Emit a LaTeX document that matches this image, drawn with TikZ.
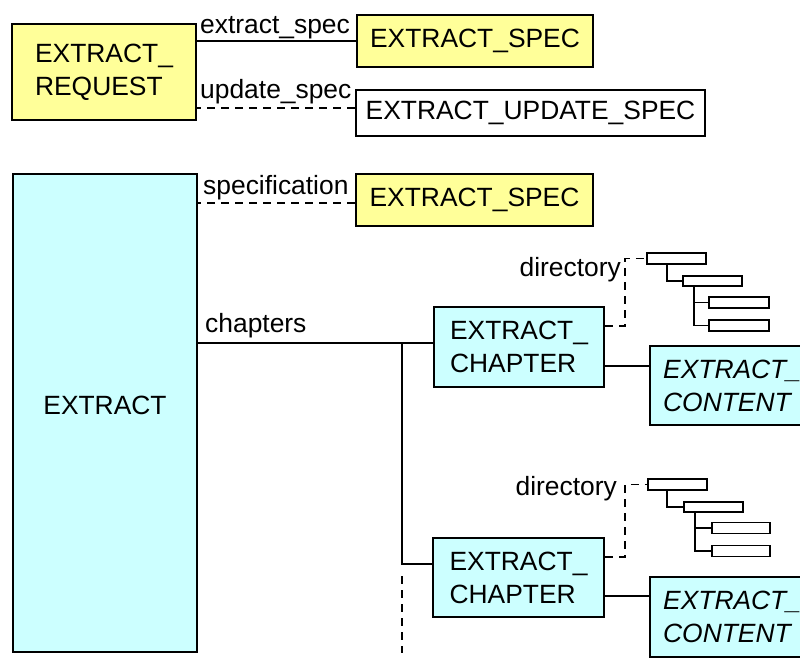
\documentclass[tikz,border=0pt]{standalone}
\usepackage{fontspec}
\setmainfont{Liberation Sans}
\usetikzlibrary{calc}
\definecolor{ylw}{HTML}{FFFF99}
\definecolor{cyn}{HTML}{CCFFFF}
\tikzset{
  box/.style={draw=black, line width=2.3pt, inner sep=0pt, align=center},
  ybox/.style={box, fill=ylw},
  wbox/.style={box, fill=white},
  cbox/.style={box, fill=cyn},
  tbox/.style={draw=black, line width=1.8pt, fill=white, inner sep=0pt, minimum width=59pt, minimum height=11pt},
  conn/.style={line width=2.2pt},
  dconn/.style={line width=2.2pt, dash pattern=on 8pt off 6pt},
  tconn/.style={line width=1.8pt},
  lbl/.style={inner sep=0pt, anchor=base west},
}
\begin{document}
\begin{tikzpicture}[x=1pt, y=-1pt, font=\fontsize{26.4}{33}\selectfont]
\useasboundingbox (0,0) rectangle (800,662);
% top group
\node[ybox, align=left, minimum width=184pt, minimum height=96pt] (req) at (104,72) {EXTRACT\_\\REQUEST};
\node[ybox, minimum width=236pt, minimum height=52pt] (spec1) at (475,41) {EXTRACT\_SPEC};
\node[wbox, minimum width=349pt, minimum height=46pt] (upd) at (530.5,113) {EXTRACT\_UPDATE\_SPEC};
\draw[conn] (req.east |- spec1.west) -- (spec1.west);
\node[lbl] (l1) at (200,33) {extract\_spec};
\draw[dconn] ($(upd.west)+(0,-5)$) coordinate (u1) -- (u1 -| req.east);
\node[lbl] (l2) at (200,98) {update\_spec};
% EXTRACT
\node[cbox, minimum width=184pt, minimum height=478pt, text depth=16pt] (ext) at (105,413) {EXTRACT};
\node[ybox, minimum width=237pt, minimum height=52pt] (spec2) at (474.5,200) {EXTRACT\_SPEC};
\draw[dconn] ($(spec2.west)+(0,3)$) coordinate (s1) -- (s1 -| ext.east);
\node[lbl] (l3) at (203,194) {specification};
% chapters
\node[cbox, align=left, minimum width=170pt, minimum height=80pt] (ch1) at (519,347) {EXTRACT\_\\CHAPTER};
\node[cbox, align=left, minimum width=171pt, minimum height=79pt] (ch2) at (518.5,577.5) {EXTRACT\_\\CHAPTER};
\coordinate (c1) at ($(ch1.west)+(0,-4)$);
\coordinate (j1) at (402,343);
\coordinate (c2) at ($(ch2.west)+(0,-13.5)$);
\draw[conn] (c1 -| ext.east) -- (c1);
\draw[conn] (j1) |- (c2);
\coordinate (j3) at (402,576);
\coordinate (j4) at (402,653);
\draw[dconn] (j3) -- (j4);
\node[lbl] (l4) at (205,332) {chapters};
% contents
\node[cbox, anchor=north west, minimum height=79pt, text width=150pt, inner xsep=13pt, align=left, font=\fontsize{26.4}{33}\selectfont\itshape] (ct1) at (649,345) {EXTRACT\_\\CONTENT};
\node[cbox, anchor=north west, minimum height=80pt, text width=150pt, inner xsep=13pt, align=left, font=\fontsize{26.4}{33}\selectfont\itshape] (ct2) at (649,576) {EXTRACT\_\\CONTENT};
\draw[conn] ($(ch1.north east)+(0,60)$) coordinate (k1) -- (k1 -| ct1.west);
\draw[conn] ($(ch2.north east)+(0,59)$) coordinate (k2) -- (k2 -| ct2.west);
% tree 1
\node[tbox] (t1a) at (676.5,258.5) {};
\node[tbox, minimum height=10pt] (t1b) at (712.5,281) {};
\node[tbox, minimum width=60pt] (t1c) at (739,302.5) {};
\node[tbox, minimum width=60pt] (t1d) at (739,325.5) {};
\draw[tconn] ($(t1a.south west)+(21,0)$) |- (t1b.west);
\draw[tconn] ($(t1b.south west)+(12,0)$) |- (t1c.west);
\draw[tconn] ($(t1b.south west)+(12,0)$) |- (t1d.west);
\draw[dconn, line width=1.9pt] ($(ch1.north east)+(0,20)$) -| ($(t1a.west)+(-21,0)$) -- (t1a.west);
\node[inner sep=0pt, anchor=base east] (d1) at (621,276) {directory};
% tree 2
\node[tbox] (t2a) at (677.5,484.5) {};
\node[tbox, minimum height=10pt] (t2b) at (713.5,507) {};
\node[tbox, minimum width=58pt] (t2c) at (741,528) {};
\node[tbox, minimum width=58pt] (t2d) at (741,551) {};
\draw[tconn] ($(t2a.south west)+(20,0)$) |- (t2b.west);
\draw[tconn] ($(t2b.south west)+(12,0)$) |- (t2c.west);
\draw[tconn] ($(t2b.south west)+(12,0)$) |- (t2d.west);
\draw[dconn, line width=1.9pt] ($(ch2.north east)+(0,20)$) -| ($(t2a.west)+(-22,0)$) -- (t2a.west);
\node[inner sep=0pt, anchor=base east] (d2) at (617,495) {directory};
\end{tikzpicture}
\end{document}
